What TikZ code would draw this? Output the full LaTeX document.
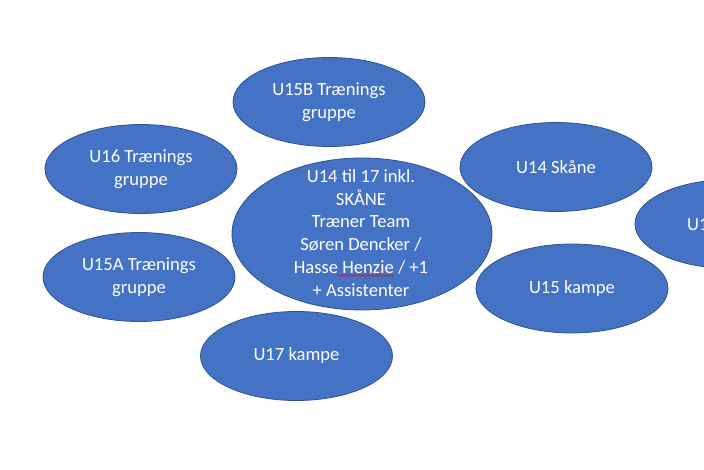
\documentclass[tikz,border=0pt]{standalone}
\usepackage{fontspec}
\setmainfont{Carlito}
\usetikzlibrary{shapes.geometric,decorations.pathmorphing}
\definecolor{bubfill}{HTML}{4472C4}
\definecolor{bubline}{HTML}{2F528F}
\begin{document}
\begin{tikzpicture}[x=1pt,y=1pt,
  bub/.style={ellipse,draw=bubline,line width=0.8pt,fill=bubfill,inner sep=0pt,
    minimum width=192pt,minimum height=89pt},
  txt/.style={text=white,align=center,inner sep=0pt,font=\fontsize{18.6}{22.8}\selectfont}]
\useasboundingbox (0,0) rectangle (704,-470);
\clip (0,0) rectangle (704,-470);
\fill[white] (0,0) rectangle (704,-470);
% outer bubbles
\node[bub] (b15b) at (329,-102) {};
\node[txt] (t15b) at (b15b) {U15B Trænings\\gruppe};
\node[bub] (b16) at (141,-169) {};
\node[txt] (t16) at (b16) {U16 Trænings\\gruppe};
\node[bub] (b14s) at (556,-167) {};
\node[txt] (t14s) at (b14s) {U14 Skåne};
\node[bub] (b15s) at (731,-224) {};
\node[txt] (t15s) at (727,-224) {U15 Skåne};
\node[bub] (b15a) at (139,-277) {};
\node[txt] (t15a) at (b15a) {U15A Trænings\\gruppe};
\node[bub] (b15k) at (572,-288.5) {};
\node[txt] (t15k) at (b15k) {U15 kampe};
\node[bub] (b17k) at (296.5,-356) {};
\node[txt] (t17k) at (b17k) {U17 kampe};
% centre bubble
\node[bub,minimum width=260pt,minimum height=152pt] (ctr) at (362,-234) {};
\node[txt] (tctr) at (361,-233) {U14 til 17 inkl.\\SKÅNE\\Træner Team\\Søren Dencker /\\Hasse Henzie / +1\\+ Assistenter};
\coordinate (w1) at (337,-275.5);
\coordinate (w2) at (394,-275.5);
\draw[red,line width=0.6pt,decorate,decoration={snake,amplitude=0.8pt,segment length=3pt}] (w1) -- (w2);
\end{tikzpicture}
\end{document}
